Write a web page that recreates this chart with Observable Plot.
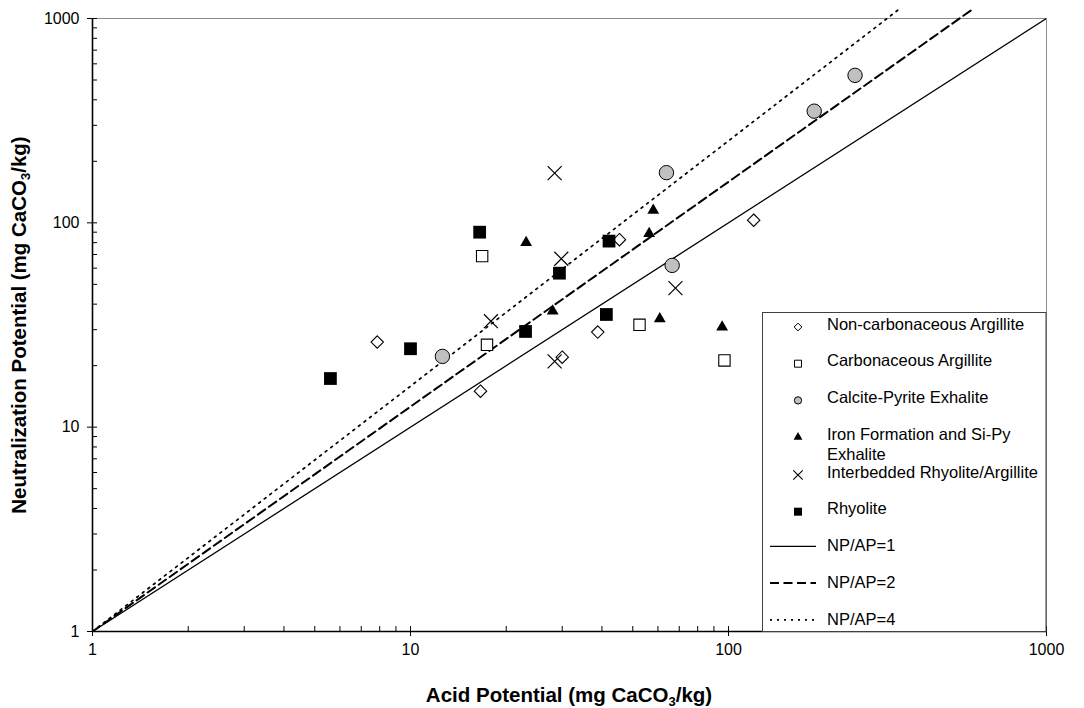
<!DOCTYPE html>
<html><head><meta charset="utf-8">
<script src="https://cdn.jsdelivr.net/npm/d3@7"></script>
<script src="https://cdn.jsdelivr.net/npm/@observablehq/plot@0.6"></script>
<style>
html,body{margin:0;padding:0;background:#fff;}
#chart{width:1084px;height:708px;}
#chart svg{font-family:"Liberation Sans",Arial,sans-serif;}
</style></head><body><div id="chart"></div>
<script>
// ---- data ----
const seriesNames = ["Non-carbonaceous Argillite","Carbonaceous Argillite","Calcite-Pyrite Exhalite","Iron Formation and Si-Py|Exhalite","Interbedded Rhyolite/Argillite","Rhyolite"];
const nonCarbAP = [7.86, 16.6, 30.0, 38.8, 45.4, 120];
const nonCarbNP = [26.1, 15.0, 22.0, 29.2, 82.7, 103];
const carbAP = [16.8, 17.4, 52.5, 97.1];
const carbNP = [68.7, 25.3, 31.7, 21.2];
const calciteAP = [12.6, 63.8, 66.5, 186, 250];
const calciteNP = [22.2, 176, 61.9, 352, 527];
const ironAP = [23.1, 28.0, 58.0, 56.3, 60.8, 95.5];
const ironNP = [80, 37, 115, 88.5, 33.9, 30.9];
const interAP = [28.4, 29.8, 17.9, 28.4, 68.1];
const interNP = [175, 66.7, 33.0, 21.0, 47.9];
const rhyoAP = [5.6, 10.0, 16.5, 23.0, 29.4, 42.1, 41.3];
const rhyoNP = [17.3, 24.2, 90, 29.4, 56.7, 81.4, 35.6];
const ratioNames = ["NP/AP=1","NP/AP=2","NP/AP=4"];
const ratios = [1, 2, 4];
const lineAP = [1, 1000];           // AP end points of each ratio line
const xTicks = [1, 10, 100, 1000];
const yTicks = [1, 10, 100, 1000];
const xTitle = ["Acid Potential (mg CaCO", "3", "/kg)"];
const yTitle = ["Neutralization Potential (mg CaCO", "3", "/kg)"];

// ---- layout ----
const W = 1084, H = 708, mL = 92, mR = 38, mT = 18, mB = 77;
const pW = W - mL - mR, pH = H - mT - mB;

const pts = (a, b) => a.map((v, i) => ({ap: v, np: b[i]}));
const minorTicks = [];
for (const d of [1, 10, 100]) for (let k = 2; k <= 9; k++) minorTicks.push(d * k);
const ratioLine = r => lineAP.map((a, i) => ({ap: a, np: i === 0 ? a : a * r}));
const dashes = ["none", "9,4.5", "2,5"];
const widths = [1.3, 2, 1.7];

const marks = [
  Plot.ruleY([1000], {stroke: "#8c8c8c", strokeWidth: 1}),
  Plot.ruleX([1000], {stroke: "#8c8c8c", strokeWidth: 1}),
  ...ratios.map((r, i) => Plot.line(ratioLine(r), {x: "ap", y: "np", stroke: "black",
      strokeWidth: widths[i], strokeDasharray: dashes[i], clip: true})),
  Plot.dot(pts(nonCarbAP, nonCarbNP), {x: "ap", y: "np", symbol: "diamond2", r: 5.6, fill: "white", stroke: "black", strokeWidth: 1.1}),
  Plot.dot(pts(carbAP, carbNP), {x: "ap", y: "np", symbol: "square", r: 6.4, fill: "white", stroke: "black", strokeWidth: 1.1}),
  Plot.dot(pts(calciteAP, calciteNP), {x: "ap", y: "np", symbol: "circle", r: 7.2, fill: "#c0c0c0", stroke: "black", strokeWidth: 1}),
  Plot.dot(pts(ironAP, ironNP), {x: "ap", y: "np", symbol: "triangle", r: 4.4, fill: "black", stroke: "none"}),
  Plot.dot(pts(interAP, interNP), {x: "ap", y: "np", symbol: "times", r: 6.4, stroke: "black", strokeWidth: 1.2}),
  Plot.dot(pts(rhyoAP, rhyoNP), {x: "ap", y: "np", symbol: "square", r: 7.2, fill: "black", stroke: "none"}),
  // axes
  Plot.ruleY(minorTicks, {y: d => d, stroke: "black", insetRight: pW - 5}),
  Plot.ruleY(yTicks, {y: d => d, stroke: "black", insetRight: pW - 10, dx: -5}),
  Plot.ruleX(minorTicks, {x: d => d, stroke: "black", insetTop: pH - 5}),
  Plot.ruleX(xTicks, {x: d => d, stroke: "black", insetTop: pH - 10, dy: 5}),
  Plot.ruleX([1], {stroke: "black", strokeWidth: 1.6}),
  Plot.ruleY([1], {stroke: "black", strokeWidth: 1.6}),
  Plot.text(yTicks, {y: d => d, text: d => String(d), frameAnchor: "left", dx: -13, textAnchor: "end", fontSize: 16, fill: "black"}),
  Plot.text(xTicks, {x: d => d, text: d => String(d), frameAnchor: "bottom", dy: 23, fontSize: 16, fill: "black"})
];

const svg = Plot.plot({
  width: W, height: H,
  marginLeft: mL, marginRight: mR, marginTop: mT, marginBottom: mB,
  x: {type: "log", domain: [1, 1000], axis: null},
  y: {type: "log", domain: [1, 1000], axis: null},
  style: {background: "white", color: "black", fontFamily: "Liberation Sans, Arial, sans-serif"},
  marks
});
document.getElementById("chart").appendChild(svg);

const s = d3.select(svg);

// let the ratio lines run slightly above the plot frame, as in the reference
try {
  s.selectAll("clipPath").each(function () {
    d3.select(this).selectAll("rect").each(function () {
      const r = d3.select(this);
      const y = +r.attr("y"), h = +r.attr("height");
      if (isFinite(y) && isFinite(h)) r.attr("y", y - 9).attr("height", h + 9);
    });
  });
} catch (e) {}

// axis titles
function title(parts, x, y, rot) {
  const t = s.append("text").attr("transform", `translate(${x},${y})` + (rot ? ` rotate(${rot})` : ""))
    .attr("text-anchor", "middle").attr("font-weight", "bold").attr("font-size", 20.5).attr("fill", "black");
  t.append("tspan").text(parts[0]);
  t.append("tspan").text(parts[1]).attr("font-size", 13).attr("dy", 4);
  t.append("tspan").text(parts[2]).attr("dy", -4);
}
title(xTitle, 569, 702, 0);
title(yTitle, 26, 325, -90);

// legend
const lg = s.append("g").attr("text-anchor", "start");
const lx = 762, ly = 312;
lg.append("rect").attr("x", lx + 0.5).attr("y", ly + 0.5).attr("width", W - mR - lx - 0.5).attr("height", H - mB - ly)
  .attr("fill", "white").attr("stroke", "#404040").attr("stroke-width", 1);
const legSym = [
  {type: d3.symbolDiamond2, size: 38, fill: "white", stroke: "black", sw: 1},
  {type: d3.symbolSquare, size: 49, fill: "white", stroke: "black", sw: 1},
  {type: d3.symbolCircle, size: 42, fill: "#c0c0c0", stroke: "black", sw: 1},
  {type: d3.symbolTriangle, size: 34, fill: "black", stroke: "none", sw: 0},
  {type: d3.symbolTimes, size: 60, fill: "none", stroke: "black", sw: 1.1},
  {type: d3.symbolSquare, size: 64, fill: "black", stroke: "none", sw: 0}
];
const rowY = i => 324 + 36.7 * i + (i >= 4 ? 1.2 : 0);
seriesNames.forEach((name, i) => {
  const y = rowY(i);
  const m = legSym[i];
  lg.append("path").attr("d", d3.symbol(m.type, m.size)()).attr("transform", `translate(798,${y + 3})`)
    .attr("fill", m.fill).attr("stroke", m.stroke).attr("stroke-width", m.sw);
  name.split("|").forEach((line, j) => {
    lg.append("text").attr("x", 827).attr("y", y + j * 20).attr("dy", "0.35em").attr("text-anchor", "start")
      .attr("font-size", 16.5).attr("fill", "black").text(line);
  });
});
ratioNames.forEach((name, i) => {
  const y = rowY(6 + i);
  lg.append("line").attr("x1", 770).attr("x2", 816).attr("y1", y + 1).attr("y2", y + 1)
    .attr("stroke", "black").attr("stroke-width", widths[i]).attr("stroke-dasharray", dashes[i]);
  lg.append("text").attr("x", 827).attr("y", y).attr("dy", "0.35em").attr("text-anchor", "start")
    .attr("font-size", 16.5).attr("fill", "black").text(name);
});
</script>
</body></html>
